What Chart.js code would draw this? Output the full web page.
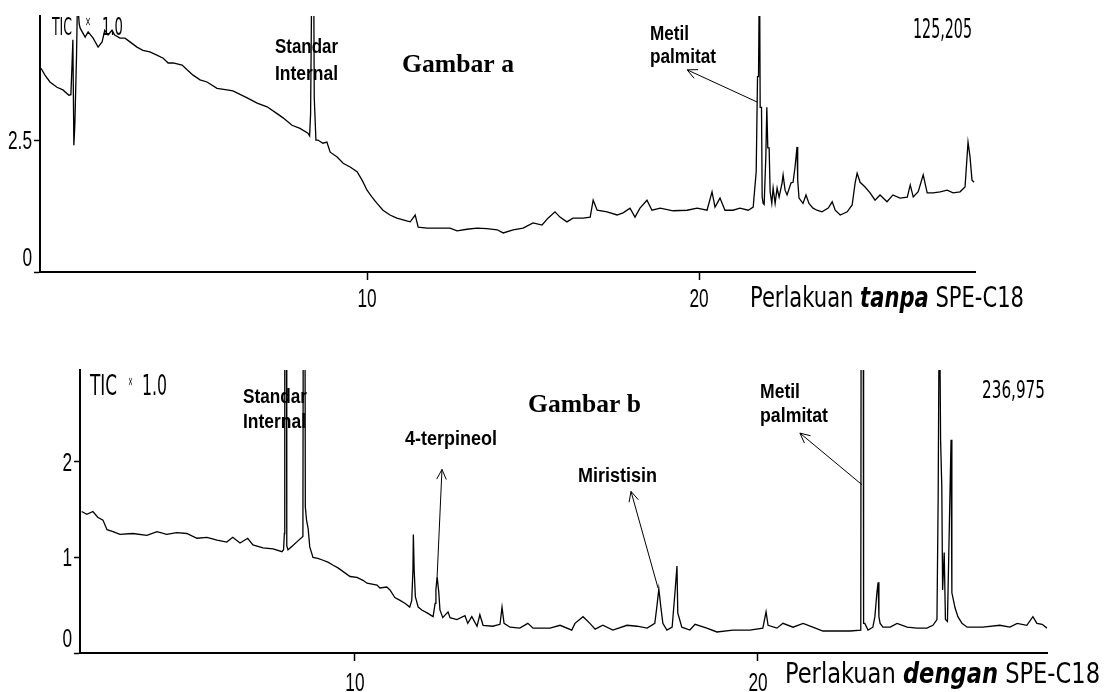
<!DOCTYPE html>
<html>
<head>
<meta charset="utf-8">
<script src="https://cdn.jsdelivr.net/npm/chart.js@4.4.1/dist/chart.umd.min.js"></script>
<style>
  body { margin: 0; background: #fff; width: 1109px; height: 692px; overflow: hidden; position: relative; }
  canvas { position: absolute; left: 0; }
  #chartA { top: 0; }
  #chartB { top: 330px; }
</style>
</head>
<body>
<canvas id="chartA" width="1109" height="330"></canvas>
<canvas id="chartB" width="1109" height="362"></canvas>
<script>
// Gambar a - perlakuan tanpa SPE-C18 (retention time in min, TIC x 1.0)
const retentionA = [
  0.18, 0.30, 0.45, 0.66, 0.84, 1.02, 1.08, 1.11, 1.14, 1.17, 1.20, 1.25, 1.28, 1.33, 1.36, 1.51,
  1.60, 1.75, 1.90, 2.02, 2.10, 2.20, 2.32, 2.40, 2.56, 2.71, 2.86, 3.07, 3.25, 3.46, 3.67, 3.86,
  4.01, 4.16, 4.43, 4.58, 4.76, 4.97, 5.18, 5.48, 5.78, 5.96, 6.39, 6.69, 6.99, 7.29, 7.47, 7.74,
  7.98, 8.22, 8.27, 8.30, 8.34, 8.39, 8.41, 8.46, 8.52, 8.67, 8.79, 8.89, 9.10, 9.28, 9.49, 9.70,
  9.85, 10.00, 10.15, 10.30, 10.48, 10.69, 10.90, 11.14, 11.30, 11.45, 11.54, 11.81, 11.99, 12.50, 12.71, 13.01,
  13.31, 13.61, 13.92, 14.10, 14.40, 14.70, 15.00, 15.27, 15.45, 15.66, 15.81, 16.02, 16.20, 16.51, 16.72, 16.81,
  16.93, 17.23, 17.53, 17.71, 17.92, 18.07, 18.22, 18.43, 18.58, 18.83, 19.22, 19.64, 19.94, 20.24, 20.39, 20.48,
  20.63, 20.78, 21.02, 21.23, 21.48, 21.63, 21.72, 21.76, 21.79, 21.82, 21.84, 21.88, 21.90, 21.93, 21.96, 22.01,
  22.04, 22.07, 22.11, 22.14, 22.19, 22.23, 22.29, 22.35, 22.41, 22.50, 22.53, 22.59, 22.65, 22.77, 22.83, 22.89,
  22.95, 22.97, 23.01, 23.13, 23.22, 23.31, 23.43, 23.55, 23.70, 23.89, 24.01, 24.10, 24.25, 24.46, 24.61, 24.70,
  24.76, 24.85, 25.00, 25.15, 25.30, 25.45, 25.66, 25.84, 26.05, 26.27, 26.36, 26.45, 26.60, 26.75, 26.87, 27.05,
  27.26, 27.47, 27.65, 27.86, 28.01, 28.10, 28.16, 28.22, 28.28
];
const ticA = [
  3.86, 3.73, 3.60, 3.50, 3.45, 3.35, 3.36, 3.85, 4.40, 2.40, 2.80, 4.10, 5.20, 4.70, 4.62, 4.45,
  4.55, 4.43, 4.26, 4.36, 4.58, 4.49, 4.58, 4.49, 4.43, 4.43, 4.36, 4.26, 4.20, 4.17, 4.11, 4.05,
  3.96, 3.96, 3.92, 3.83, 3.73, 3.64, 3.60, 3.48, 3.45, 3.43, 3.30, 3.20, 3.13, 3.00, 2.92, 2.78,
  2.72, 2.63, 2.58, 3.00, 6.00, 6.00, 3.30, 2.50, 2.50, 2.44, 2.46, 2.27, 2.18, 2.06, 1.99, 1.90,
  1.74, 1.55, 1.42, 1.30, 1.17, 1.08, 1.02, 0.98, 0.95, 1.08, 0.85, 0.83, 0.83, 0.83, 0.78, 0.81,
  0.83, 0.82, 0.80, 0.74, 0.80, 0.83, 0.93, 0.89, 1.02, 1.14, 1.04, 0.95, 1.02, 1.02, 1.04, 1.36,
  1.17, 1.14, 1.08, 1.12, 1.21, 1.04, 1.21, 1.36, 1.17, 1.21, 1.16, 1.17, 1.21, 1.17, 1.52, 1.23,
  1.40, 1.17, 1.17, 1.21, 1.17, 1.23, 1.90, 3.70, 3.70, 6.00, 3.12, 3.12, 1.42, 1.30, 1.28, 2.18,
  3.12, 2.35, 2.35, 1.52, 1.30, 1.59, 1.30, 1.59, 1.42, 1.69, 1.84, 1.55, 1.46, 1.69, 1.70, 1.99,
  2.37, 1.74, 1.40, 1.30, 1.46, 1.30, 1.21, 1.17, 1.14, 1.21, 1.33, 1.17, 1.08, 1.14, 1.27, 1.69,
  1.87, 1.70, 1.61, 1.50, 1.36, 1.46, 1.33, 1.46, 1.40, 1.42, 1.65, 1.42, 1.52, 1.84, 1.50, 1.50,
  1.52, 1.55, 1.50, 1.52, 1.61, 2.46, 2.18, 1.74, 1.70
];

// Gambar b - perlakuan dengan SPE-C18
const retentionB = [
  3.22, 3.35, 3.50, 3.62, 3.75, 3.85, 4.00, 4.17, 4.49, 4.84, 5.09, 5.33, 5.58, 5.83, 6.08, 6.33,
  6.58, 6.82, 6.97, 7.15, 7.34, 7.47, 7.72, 7.97, 8.19, 8.23, 8.25, 8.26, 8.30, 8.31, 8.34, 8.45,
  8.58, 8.71, 8.72, 8.76, 8.77, 8.80, 8.84, 8.88, 8.96, 9.08, 9.21, 9.33, 9.45, 9.58, 9.88, 10.05,
  10.20, 10.30, 10.55, 10.62, 10.79, 10.87, 10.99, 11.12, 11.24, 11.36, 11.41, 11.44, 11.45, 11.47, 11.50, 11.57,
  11.66, 11.79, 11.94, 11.99, 12.01, 12.04, 12.08, 12.11, 12.18, 12.31, 12.36, 12.53, 12.73, 12.80, 12.90, 13.03,
  13.10, 13.18, 13.42, 13.60, 13.65, 13.70, 13.85, 14.09, 14.29, 14.42, 14.84, 15.09, 15.38, 15.46, 15.66, 15.83,
  15.96, 16.15, 16.40, 16.75, 17.00, 17.25, 17.44, 17.49, 17.54, 17.59, 17.64, 17.74, 17.87, 17.94, 17.99, 18.01,
  18.11, 18.31, 18.44, 18.73, 18.98, 19.38, 19.80, 20.12, 20.20, 20.25, 20.47, 20.62, 20.87, 21.12, 21.36, 21.61,
  22.03, 22.28, 22.55, 22.56, 22.61, 22.62, 22.65, 22.73, 22.85, 22.90, 22.95, 22.98, 23.00, 23.03, 23.10, 23.28,
  23.45, 23.70, 23.95, 24.19, 24.34, 24.44, 24.47, 24.50, 24.53, 24.56, 24.58, 24.62, 24.65, 24.70, 24.75, 24.79,
  24.81, 24.85, 24.89, 24.96, 25.06, 25.19, 25.58, 26.00, 26.25, 26.43, 26.67, 26.82, 26.92, 27.05, 27.17
];
const ticB = [
  1.48, 1.45, 1.48, 1.42, 1.39, 1.29, 1.27, 1.24, 1.25, 1.23, 1.27, 1.24, 1.26, 1.25, 1.20, 1.21,
  1.18, 1.16, 1.21, 1.15, 1.20, 1.13, 1.10, 1.09, 1.06, 1.08, 1.25, 4.00, 4.00, 1.12, 1.08, 1.12,
  1.17, 1.22, 4.00, 4.00, 1.53, 1.39, 1.30, 1.11, 1.00, 0.99, 0.97, 0.95, 0.92, 0.89, 0.80, 0.79,
  0.76, 0.73, 0.71, 0.68, 0.69, 0.66, 0.58, 0.55, 0.52, 0.48, 0.55, 0.87, 1.24, 0.87, 0.59, 0.48,
  0.45, 0.42, 0.38, 0.52, 0.66, 0.80, 0.64, 0.45, 0.37, 0.43, 0.37, 0.35, 0.39, 0.31, 0.38, 0.28,
  0.40, 0.29, 0.28, 0.30, 0.48, 0.31, 0.27, 0.26, 0.31, 0.26, 0.26, 0.29, 0.24, 0.31, 0.38, 0.31,
  0.25, 0.29, 0.24, 0.29, 0.28, 0.26, 0.31, 0.48, 0.67, 0.48, 0.31, 0.24, 0.27, 0.63, 0.91, 0.42,
  0.27, 0.24, 0.30, 0.26, 0.22, 0.24, 0.24, 0.26, 0.43, 0.29, 0.26, 0.31, 0.27, 0.31, 0.27, 0.23,
  0.23, 0.23, 0.24, 4.00, 4.00, 0.31, 0.31, 0.24, 0.27, 0.38, 0.63, 0.74, 0.38, 0.31, 0.27, 0.27,
  0.31, 0.27, 0.26, 0.26, 0.29, 0.35, 1.63, 4.00, 2.23, 1.74, 0.66, 1.05, 0.35, 0.33, 1.39, 2.23,
  0.63, 0.55, 0.47, 0.38, 0.31, 0.27, 0.27, 0.29, 0.27, 0.31, 0.29, 0.38, 0.31, 0.30, 0.26
];

const xTicksA = [10, 20];
const yTicksA = [0, 2.5];
const xTicksB = [10, 20];
const yTicksB = [0, 1, 2];

const NARROW = "'Liberation Sans Narrow', 'DejaVu Sans Condensed', 'Liberation Sans', sans-serif";
const SANS = "'Liberation Sans', Arial, sans-serif";
const SERIF = "'Liberation Serif', 'Times New Roman', serif";
const TICK_FONT = "25px 'Liberation Sans', Arial, sans-serif";
const TICK_SX = 0.69;   // instrument software uses a tall condensed font

// draw text parts squeezed to a width (w) or by a fixed factor (sx)
function drawParts(ctx, parts, x, y, opt) {
  let total = 0;
  parts.forEach(p => { ctx.font = p[1]; total += ctx.measureText(p[0]).width; });
  const sx = opt.w ? opt.w / total : opt.sx;
  const width = total * sx;
  let left = x;
  if (opt.align === 'right') left = x - width;
  if (opt.align === 'center') left = x - width / 2;
  ctx.save();
  ctx.translate(left, y);
  ctx.scale(sx, 1);
  let cx = 0;
  parts.forEach(p => {
    ctx.font = p[1];
    ctx.fillText(p[0], cx, 0);
    cx += ctx.measureText(p[0]).width;
  });
  ctx.restore();
}

function annotations(labels, arrows, tickBase) {
  return {
    id: 'annotations',
    beforeDatasetsDraw(chart) {
      const ctx = chart.ctx;
      const xs = chart.scales.x, ys = chart.scales.y;
      const area = chart.chartArea;
      ctx.save();
      ctx.fillStyle = '#000';
      ctx.textBaseline = 'alphabetic';
      ctx.textAlign = 'left';
      // tick labels from the scales' own ticks
      xs.ticks.forEach(t => {
        drawParts(ctx, [[String(t.label ?? t.value), TICK_FONT]], xs.getPixelForValue(t.value),
                  area.bottom + tickBase, { sx: TICK_SX, align: 'center' });
      });
      ys.ticks.forEach(t => {
        const py = ys.getPixelForValue(t.value) + (t.value === 0 ? -6 : 9);
        drawParts(ctx, [[String(t.label ?? t.value), TICK_FONT]], area.left - 8, py,
                  { sx: TICK_SX, align: 'right' });
      });
      labels.forEach(l => drawParts(ctx, l.parts, l.x, l.y, { w: l.w }));
      ctx.strokeStyle = '#000';
      ctx.lineWidth = 1;
      arrows.forEach(a => {
        const x1 = xs.getPixelForValue(a.from[0]), y1 = ys.getPixelForValue(a.from[1]);
        const x2 = xs.getPixelForValue(a.to[0]), y2 = ys.getPixelForValue(a.to[1]);
        const ang = Math.atan2(y2 - y1, x2 - x1);
        ctx.beginPath();
        ctx.moveTo(x1, y1);
        ctx.lineTo(x2, y2);
        [0.45, -0.45].forEach(d => {
          ctx.moveTo(x2, y2);
          ctx.lineTo(x2 - 11 * Math.cos(ang + d), y2 - 11 * Math.sin(ang + d));
        });
        ctx.stroke();
      });
      ctx.restore();
    }
  };
}

function buildChart(id, times, values, c) {
  return new Chart(document.getElementById(id), {
    type: 'line',
    data: {
      datasets: [{
        data: times.map((t, i) => ({ x: t, y: values[i] })),
        borderColor: '#000',
        borderWidth: 1.3,
        pointRadius: 0,
        tension: 0
      }]
    },
    options: {
      responsive: false,
      animation: false,
      layout: { padding: c.padding },
      plugins: { legend: { display: false }, tooltip: { enabled: false } },
      scales: {
        x: {
          type: 'linear',
          min: c.xMin, max: c.xMax,
          afterBuildTicks: s => { s.ticks = c.xTicks.map(v => ({ value: v })); },
          afterFit: s => { s.height = c.xHeight; },
          border: { display: true, color: '#000', width: 2 },
          grid: { drawOnChartArea: false, tickLength: 8, tickColor: '#000', tickWidth: 1.5 },
          ticks: { display: false, callback: v => String(v) }
        },
        y: {
          min: 0, max: c.yMax,
          afterBuildTicks: s => { s.ticks = c.yTicks.map(v => ({ value: v })); },
          afterFit: s => { s.width = c.yWidth; },
          border: { display: true, color: '#000', width: 2 },
          grid: { drawOnChartArea: false, tickLength: 6, tickColor: '#000', tickWidth: 1.5 },
          ticks: { display: false, callback: v => String(v) }
        }
      }
    },
    plugins: [annotations(c.labels, c.arrows, c.tickBase)]
  });
}

buildChart('chartA', retentionA, ticA, {
  padding: { top: 16, right: 134, left: 0, bottom: 0 },
  xMin: 0.15, xMax: 28.31, yMax: 4.85,
  xTicks: xTicksA, yTicks: yTicksA,
  xHeight: 58, yWidth: 40, tickBase: 35,
  labels: [
    { parts: [['TIC', '25px ' + NARROW]], x: 52, y: 35, w: 20 },
    { parts: [['×', '14px ' + NARROW]], x: 85, y: 26, w: 6 },
    { parts: [['1.0', '25px ' + NARROW]], x: 102, y: 35, w: 21 },
    { parts: [['Standar', 'bold 20px ' + SANS]], x: 275, y: 53, w: 63 },
    { parts: [['Internal', 'bold 20px ' + SANS]], x: 275, y: 80, w: 63 },
    { parts: [['Gambar a', 'bold 26px ' + SERIF]], x: 402, y: 72, w: 112 },
    { parts: [['Metil', 'bold 20px ' + SANS]], x: 650, y: 40, w: 39 },
    { parts: [['palmitat', 'bold 20px ' + SANS]], x: 650, y: 63, w: 66 },
    { parts: [['125,205', '27px ' + NARROW]], x: 913, y: 38, w: 59 },
    { parts: [['Perlakuan ', '28px ' + NARROW], ['tanpa', 'italic bold 28px ' + NARROW], [' SPE-C18', '28px ' + NARROW]],
      x: 750, y: 307, w: 274 }
  ],
  arrows: [
    { from: [21.75, 3.22], to: [19.64, 3.83] }
  ]
});

buildChart('chartB', retentionB, ticB, {
  padding: { top: 40, right: 62, left: 0, bottom: 0 },
  xMin: 3.18, xMax: 27.17, yMax: 2.96,
  xTicks: xTicksB, yTicks: yTicksB,
  xHeight: 39, yWidth: 80, tickBase: 38,
  labels: [
    { parts: [['TIC', '28px ' + NARROW]], x: 90, y: 65, w: 27 },
    { parts: [['×', '14px ' + NARROW]], x: 128, y: 56, w: 5 },
    { parts: [['1.0', '28px ' + NARROW]], x: 142, y: 65, w: 25 },
    { parts: [['Standar', 'bold 20px ' + SANS]], x: 243, y: 73, w: 64 },
    { parts: [['Internal', 'bold 20px ' + SANS]], x: 243, y: 98, w: 63 },
    { parts: [['Gambar b', 'bold 26px ' + SERIF]], x: 528, y: 82, w: 113 },
    { parts: [['4-terpineol', 'bold 20px ' + SANS]], x: 405, y: 115, w: 92 },
    { parts: [['Miristisin', 'bold 20px ' + SANS]], x: 578, y: 152, w: 79 },
    { parts: [['Metil', 'bold 20px ' + SANS]], x: 760, y: 68, w: 40 },
    { parts: [['palmitat', 'bold 20px ' + SANS]], x: 760, y: 92, w: 68 },
    { parts: [['236,975', '25px ' + NARROW]], x: 982, y: 68, w: 63 },
    { parts: [['Perlakuan ', '28px ' + NARROW], ['dengan', 'italic bold 28px ' + NARROW], [' SPE-C18', '28px ' + NARROW]],
      x: 785, y: 353, w: 315 }
  ],
  arrows: [
    { from: [12.04, 0.80], to: [12.16, 1.92] },
    { from: [17.52, 0.68], to: [16.85, 1.69] },
    { from: [22.58, 1.76], to: [21.04, 2.30] }
  ]
});
</script>
</body>
</html>
